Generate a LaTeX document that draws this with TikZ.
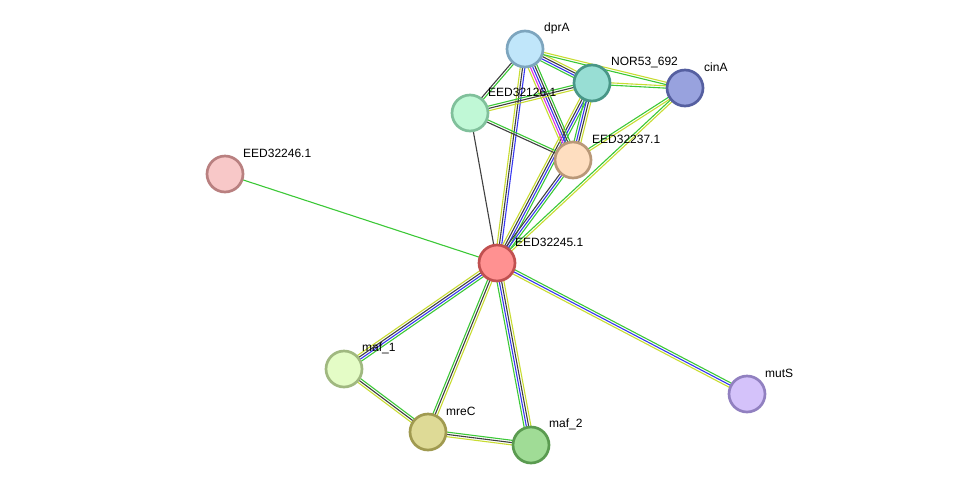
\documentclass[tikz,border=0pt]{standalone}
\usepackage{fontspec}
\setmainfont{Liberation Sans}
\usepackage{tikz}
\usetikzlibrary{calc}
\usetikzlibrary{positioning}
\usepackage{color}
\definecolor{lgreen}{RGB}{60, 200, 55}
\definecolor{lyellow}{RGB}{200, 220, 50}
\definecolor{lblue}{RGB}{55, 55, 240}
\definecolor{lblack}{RGB}{64, 64, 64}
\definecolor{lmagenta}{RGB}{222, 50, 222}
\definecolor{dpraline}{RGB}{125, 165, 190}
\definecolor{dprafill}{RGB}{192, 230, 250}
\definecolor{norline}{RGB}{72, 150, 135}
\definecolor{norfill}{RGB}{152, 222, 212}
\definecolor{cinaline}{RGB}{85, 95, 160}
\definecolor{cinafill}{RGB}{152, 162, 222}
\definecolor{twsixline}{RGB}{128, 192, 155}
\definecolor{twsixfill}{RGB}{192, 248, 214}
\definecolor{thsevline}{RGB}{185, 152, 120}
\definecolor{thsevfill}{RGB}{254, 222, 192}
\definecolor{fosixline}{RGB}{185, 128, 128}
\definecolor{fosixfill}{RGB}{248, 200, 200}
\definecolor{fofiveline}{RGB}{192, 80, 80}
\definecolor{fofivefill}{RGB}{255, 145, 145}
\definecolor{mafoneline}{RGB}{160, 184, 128}
\definecolor{mafonefill}{RGB}{228, 252, 198}
\definecolor{mrecline}{RGB}{160, 154, 80}
\definecolor{mrecfill}{RGB}{222, 218, 150}
\definecolor{maftwoline}{RGB}{90, 155, 80}
\definecolor{maftwofill}{RGB}{160, 220, 150}
\definecolor{mutsline}{RGB}{145, 128, 192}
\definecolor{mutsfill}{RGB}{212, 194, 250}
\pgfdeclarelayer{background}
\pgfsetlayers{background,main}
% one STRING style link: #1,#2 nodes, #3 number of lines, #4 colours
\newcommand{\strlink}[4]{%
  \foreach \c [count=\i] in {#4} {%
    \pgfmathsetmacro{\off}{(\i-(#3+1)/2)*2.3}
    \draw[\c, line width=1.1pt] ($(#1.center)!\off pt!90:(#2.center)$) -- ($(#2.center)!\off pt!-90:(#1.center)$);
  }%
}

\begin{document}
\begin{tikzpicture}[x=1pt, y=-1pt,
    prot/.style={circle, minimum size=36pt, inner sep=0pt, line width=2.7pt, draw=#1line, fill=#1fill},
    lbl/.style={anchor=west, inner sep=0pt, font=\fontsize{12}{14}\selectfont}]
  \useasboundingbox (0,0) rectangle (976,491);
  % proteins
  \node[prot=dpra] (dprA) at (525,49) {};
  \node[prot=nor] (nor) at (592,83) {};
  \node[prot=cina] (cinA) at (685,88) {};
  \node[prot=twsix] (e26) at (470,113) {};
  \node[prot=thsev] (e37) at (573,160) {};
  \node[prot=fosix] (e46) at (225,174) {};
  \node[prot=fofive] (e45) at (497,263) {};
  \node[prot=mafone] (maf1) at (344,369) {};
  \node[prot=mrec] (mreC) at (428,432) {};
  \node[prot=maftwo] (maf2) at (531,445) {};
  \node[prot=muts] (mutS) at (747,394) {};
  % labels
  \node[lbl] (dprAl) at ($(dprA)+(19,-21)$) {dprA};
  \node[lbl] (norl) at ($(nor)+(19,-21)$) {NOR53\_692};
  \node[lbl] (cinAl) at ($(cinA)+(19,-21)$) {cinA};
  \node[lbl] (e26l) at ($(e26)+(18,-21)$) {EED32126.1};
  \node[lbl] (e37l) at ($(e37)+(19,-21)$) {EED32237.1};
  \node[lbl] (e46l) at ($(e46)+(18,-21)$) {EED32246.1};
  \node[lbl] (e45l) at ($(e45)+(18,-21)$) {EED32245.1};
  \node[lbl] (maf1l) at ($(maf1)+(18,-21)$) {maf\_1};
  \node[lbl] (mreCl) at ($(mreC)+(18,-21)$) {mreC};
  \node[lbl] (maf2l) at ($(maf2)+(18,-21)$) {maf\_2};
  \node[lbl] (mutSl) at ($(mutS)+(18,-21)$) {mutS};
  % links
  \begin{pgfonlayer}{background}
    \strlink{e46}{e45}{1}{lgreen}
    \strlink{e45}{e26}{1}{lblack}
    \strlink{e45}{mutS}{3}{lyellow,lblue,lgreen}
    \strlink{e45}{maf1}{4}{lyellow,lblack,lblue,lgreen}
    \strlink{e45}{mreC}{3}{lgreen,lblack,lyellow}
    \strlink{e45}{maf2}{4}{lgreen,lblue,lblack,lyellow}
    \strlink{maf1}{mreC}{3}{lyellow,lblack,lgreen}
    \strlink{mreC}{maf2}{3}{lyellow,lblack,lgreen}
    \strlink{e45}{dprA}{3}{lblue,lblack,lyellow}
    \strlink{e45}{nor}{4}{lgreen,lblue,lblack,lyellow}
    \strlink{e45}{e37}{3}{lgreen,lblue,lblack}
    \strlink{e45}{cinA}{2}{lyellow,lgreen}
    \strlink{dprA}{nor}{4}{lgreen,lblue,lblack,lyellow}
    \strlink{dprA}{cinA}{2}{lgreen,lyellow}
    \strlink{dprA}{e26}{2}{lblack,lgreen}
    \strlink{dprA}{e37}{5}{lyellow,lmagenta,lblue,lblack,lgreen}
    \strlink{nor}{cinA}{2}{lgreen,lyellow}
    \strlink{nor}{e26}{3}{lgreen,lblack,lyellow}
    \strlink{nor}{e37}{4}{lgreen,lblue,lblack,lyellow}
    \strlink{e26}{e37}{2}{lblack,lgreen}
    \strlink{e37}{cinA}{2}{lyellow,lgreen}
  \end{pgfonlayer}
\end{tikzpicture}
\end{document}
